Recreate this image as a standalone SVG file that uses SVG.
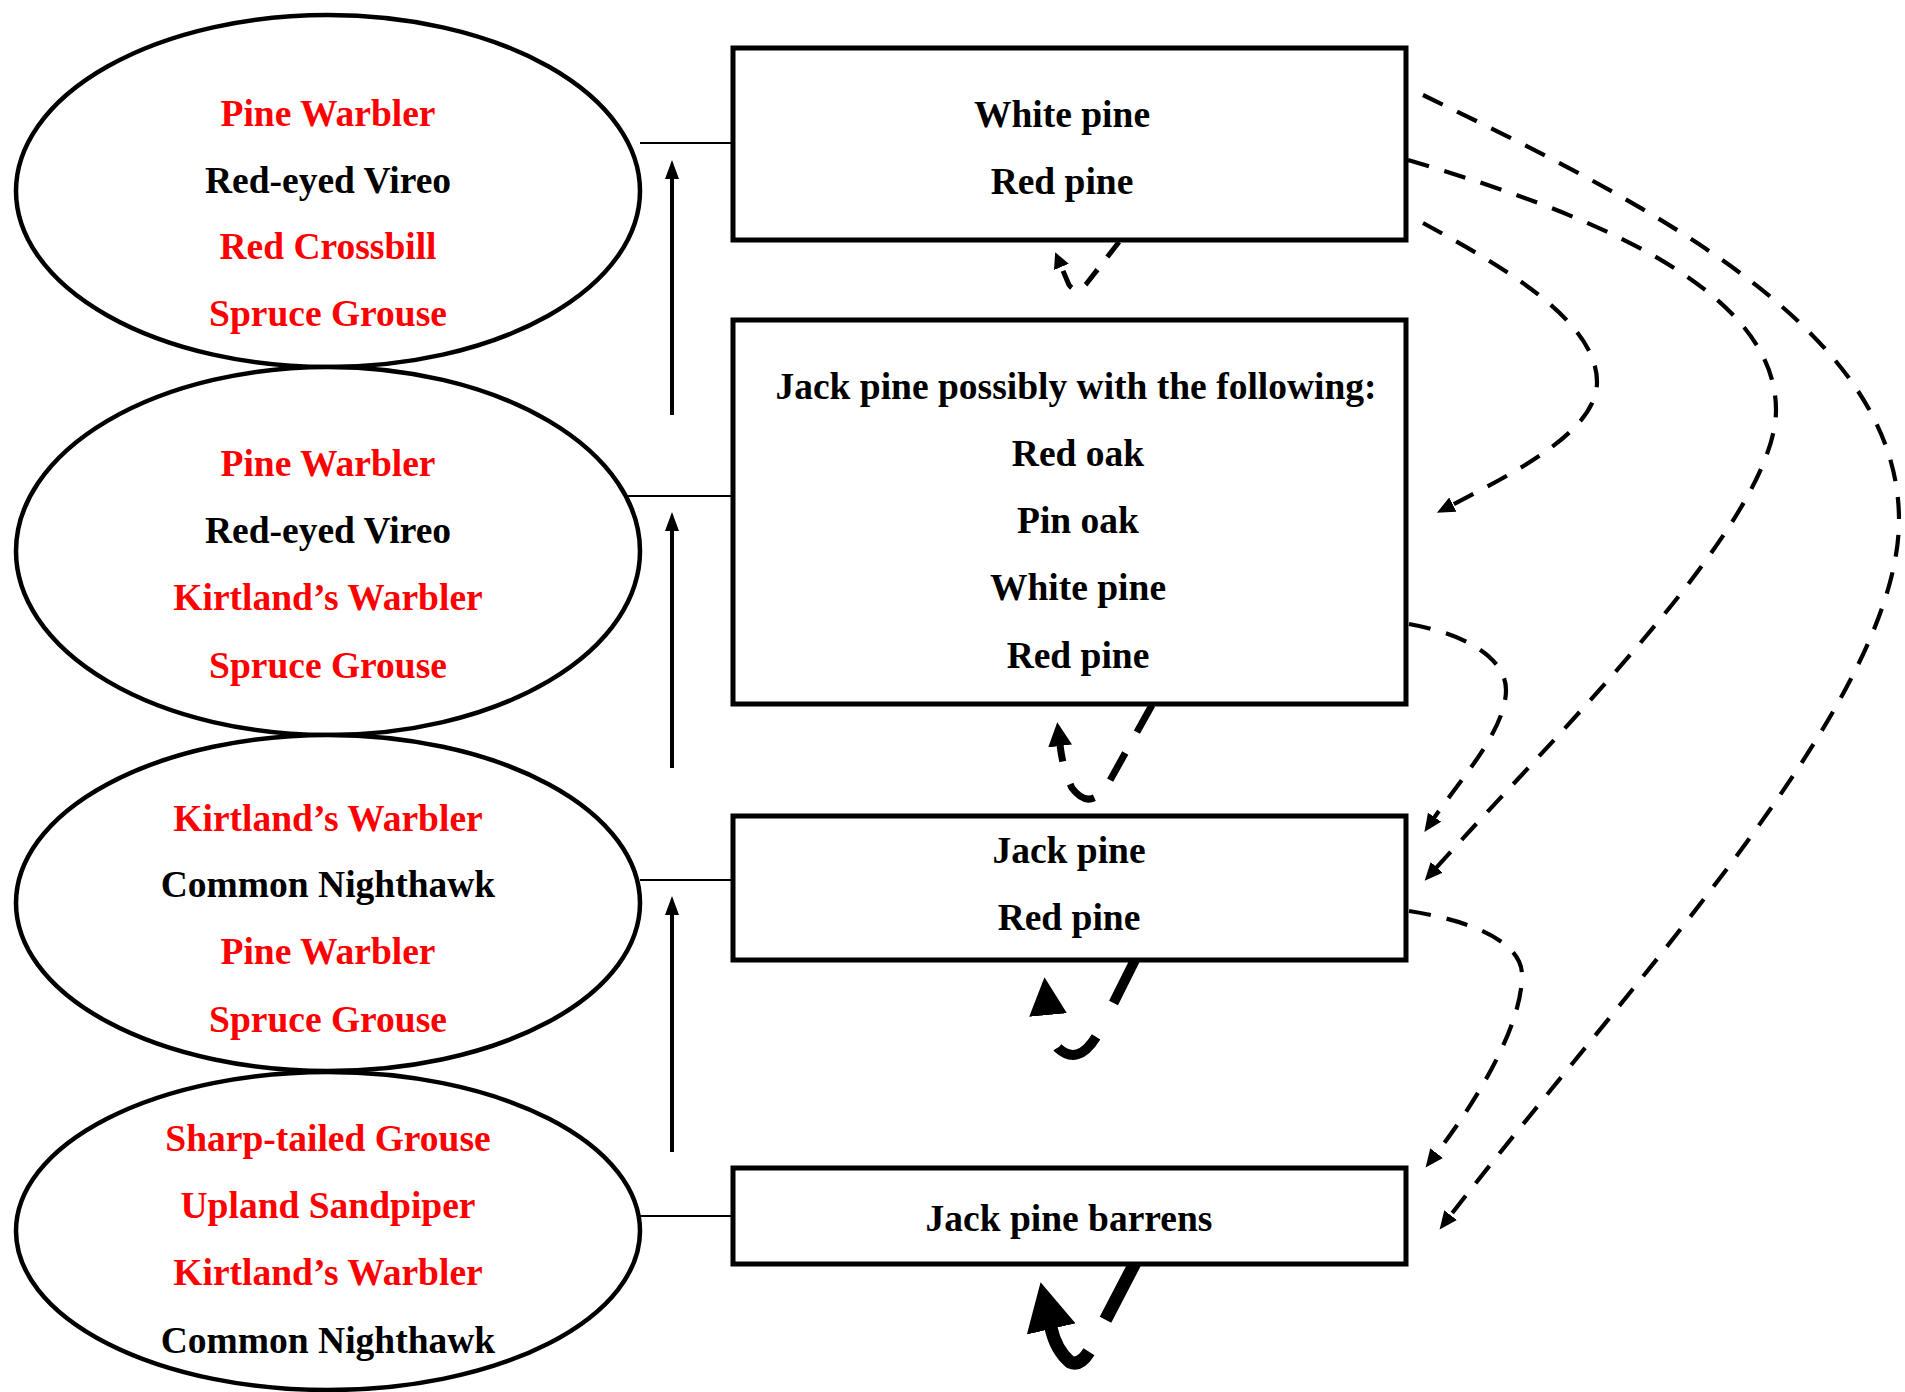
<svg xmlns="http://www.w3.org/2000/svg" width="1905" height="1392" viewBox="0 0 1905 1392">
<style>
text{font-family:"Liberation Serif","Times New Roman",serif;font-weight:bold;font-size:37.5px;text-anchor:middle;fill:#000}
.r{fill:#ff0000}
.ell{fill:#fff;stroke:#000;stroke-width:4.5}
.box{fill:#fff;stroke:#000;stroke-width:5}
.thin{stroke:#000;stroke-width:2;fill:none}
.up{stroke:#000;stroke-width:4;fill:none}
.dash{stroke:#000;stroke-width:4.2;fill:none;stroke-dasharray:22 16}
</style>
<defs>
<marker id="ah" markerUnits="userSpaceOnUse" markerWidth="20" markerHeight="16" refX="1" refY="8" orient="auto"><path d="M0,0 L18,8 L0,16 z" fill="#000"/></marker>
<marker id="av" markerUnits="userSpaceOnUse" markerWidth="20" markerHeight="16" refX="1" refY="8" orient="auto"><path d="M0,1 L19,8 L0,15 z" fill="#000"/></marker>
<marker id="l1" markerUnits="userSpaceOnUse" markerWidth="18" markerHeight="16" refX="1" refY="8" orient="auto"><path d="M0,0 L16,8 L0,16 z" fill="#000"/></marker>
<marker id="l2" markerUnits="userSpaceOnUse" markerWidth="26" markerHeight="24" refX="1" refY="12" orient="auto"><path d="M0,0 L24,12 L0,24 z" fill="#000"/></marker>
<marker id="l3" markerUnits="userSpaceOnUse" markerWidth="40" markerHeight="38" refX="1" refY="19" orient="auto"><path d="M0,0 L38,19 L0,38 z" fill="#000"/></marker>
<marker id="l4" markerUnits="userSpaceOnUse" markerWidth="52" markerHeight="50" refX="1" refY="25" orient="auto"><path d="M0,0 L48,25 L0,50 z" fill="#000"/></marker>
</defs>

<g id="connectors">
<line class="thin" x1="640" y1="143" x2="733" y2="143"/>
<line class="thin" x1="626" y1="496" x2="733" y2="496"/>
<line class="thin" x1="640" y1="880" x2="733" y2="880"/>
<line class="thin" x1="640" y1="1216" x2="733" y2="1216"/>
<line class="up" x1="672" y1="415" x2="672" y2="178" marker-end="url(#av)"/>
<line class="up" x1="672" y1="768" x2="672" y2="530" marker-end="url(#av)"/>
<line class="up" x1="672" y1="1152" x2="672" y2="914" marker-end="url(#av)"/>
<path class="dash" d="M1423,95 C1650,205 1899,330 1899,520 C1899,700 1636,976 1450,1216" marker-end="url(#ah)"/>
<path class="dash" d="M1408,160 C1560,205 1776,280 1776,410 C1776,520 1560,730 1436,868" marker-end="url(#ah)"/>
<path class="dash" d="M1423,223 C1500,265 1597,320 1597,382 C1597,430 1520,470 1452,505" marker-end="url(#ah)"/>
<path class="dash" d="M1409,624 C1470,635 1506,660 1506,690 C1506,730 1460,780 1434,818" marker-end="url(#ah)"/>
<path class="dash" d="M1409,911 C1480,922 1522,945 1522,975 C1522,1030 1470,1110 1436,1154" marker-end="url(#ah)"/>
<path d="M1119,242 L1087,283 Q1077,295 1069,285 L1061,266" fill="none" stroke="#000" stroke-width="5" stroke-dasharray="19 16" marker-end="url(#l1)"/>
<path d="M1152,705 L1108,784 Q1090,812 1072,788 Q1063,770 1060,745" fill="none" stroke="#000" stroke-width="7" stroke-dasharray="31 24" marker-end="url(#l2)"/>
<path d="M1135,960 L1100,1030 Q1080,1068 1058,1048 Q1050,1035 1048,1014" fill="none" stroke="#000" stroke-width="10" stroke-dasharray="48 38" marker-end="url(#l3)"/>
<path d="M1135,1263 L1095,1340 Q1083,1368 1070,1362 Q1056,1350 1051,1328" fill="none" stroke="#000" stroke-width="13" stroke-dasharray="64 36 200" marker-end="url(#l4)"/>
</g>

<g id="e1">
<ellipse class="ell" cx="328" cy="191" rx="312" ry="176"/>
<text class="r" x="328" y="126">Pine Warbler</text>
<text x="328" y="193">Red-eyed Vireo</text>
<text class="r" x="328" y="259">Red Crossbill</text>
<text class="r" x="328" y="326">Spruce Grouse</text>
</g>
<g id="e2">
<ellipse class="ell" cx="328" cy="551" rx="312" ry="184"/>
<text class="r" x="328" y="476">Pine Warbler</text>
<text x="328" y="543">Red-eyed Vireo</text>
<text class="r" x="328" y="610">Kirtland’s Warbler</text>
<text class="r" x="328" y="678">Spruce Grouse</text>
</g>
<g id="e3">
<ellipse class="ell" cx="328" cy="903" rx="312" ry="168"/>
<text class="r" x="328" y="831">Kirtland’s Warbler</text>
<text x="328" y="897">Common Nighthawk</text>
<text class="r" x="328" y="964">Pine Warbler</text>
<text class="r" x="328" y="1032">Spruce Grouse</text>
</g>
<g id="e4">
<ellipse class="ell" cx="328" cy="1231" rx="312" ry="159"/>
<text class="r" x="328" y="1151">Sharp-tailed Grouse</text>
<text class="r" x="328" y="1218">Upland Sandpiper</text>
<text class="r" x="328" y="1285">Kirtland’s Warbler</text>
<text x="328" y="1353">Common Nighthawk</text>
</g>

<g id="b1">
<rect class="box" x="733" y="48" width="673" height="192"/>
<text x="1062" y="127">White pine</text>
<text x="1062" y="194">Red pine</text>
</g>
<g id="b2">
<rect class="box" x="733" y="320" width="673" height="384"/>
<text x="1076" y="399">Jack pine possibly with the following:</text>
<text x="1078" y="466">Red oak</text>
<text x="1078" y="533">Pin oak</text>
<text x="1078" y="600">White pine</text>
<text x="1078" y="668">Red pine</text>
</g>
<g id="b3">
<rect class="box" x="733" y="816" width="673" height="144"/>
<text x="1069" y="863">Jack pine</text>
<text x="1069" y="930">Red pine</text>
</g>
<g id="b4">
<rect class="box" x="733" y="1168" width="673" height="96"/>
<text x="1069" y="1231">Jack pine barrens</text>
</g>
</svg>
